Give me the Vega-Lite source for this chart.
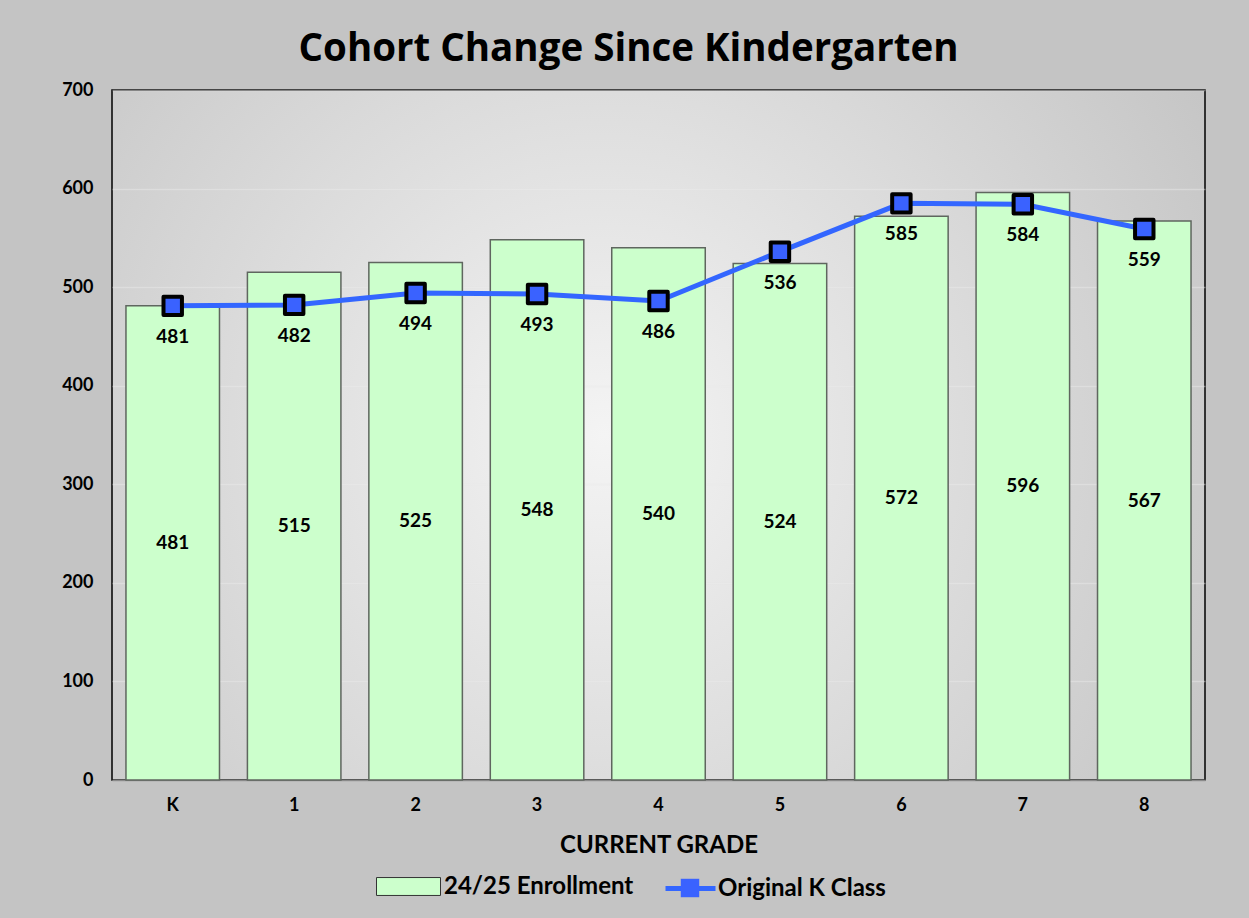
{
  "$schema": "https://vega.github.io/schema/vega-lite/v6.json",
  "width": 1093,
  "height": 690,
  "autosize": {"type": "none"},
  "padding": {"left": 112, "top": 90, "right": 44, "bottom": 138},
  "background": "#c4c4c4",
  "title": {
    "text": "Cohort Change Since Kindergarten",
    "font": "Open Sans",
    "fontWeight": "bold",
    "fontSize": 38.5,
    "color": "#000000",
    "anchor": "middle",
    "dx": -30,
    "offset": 12
  },
  "config": {
    "font": "Lato",
    "view": {
      "stroke": "#000000",
      "strokeWidth": 1.5,
      "fill": {
        "gradient": "radial",
        "x1": 0.45, "y1": 0.5, "r1": 0,
        "x2": 0.45, "y2": 0.5, "r2": 0.75,
        "stops": [
          {"offset": 0, "color": "#f4f4f4"},
          {"offset": 1, "color": "#bdbdbd"}
        ]
      }
    },
    "axis": {
      "labelFont": "Lato",
      "labelFontWeight": "bold",
      "labelFontSize": 18,
      "labelColor": "#000000",
      "titleFont": "Lato",
      "titleFontWeight": "bold",
      "titleColor": "#000000",
      "ticks": false,
      "tickSize": 0
    },
    "legend": {
      "labelFont": "Lato",
      "labelFontWeight": "bold",
      "labelFontSize": 24,
      "labelColor": "#000000",
      "labelLimit": 400,
      "padding": 0,
      "offset": 0
    }
  },
  "data": {
    "values": [
      {"grade": "K", "enroll": 481, "orig": 481},
      {"grade": "1", "enroll": 515, "orig": 482},
      {"grade": "2", "enroll": 525, "orig": 494},
      {"grade": "3", "enroll": 548, "orig": 493},
      {"grade": "4", "enroll": 540, "orig": 486},
      {"grade": "5", "enroll": 524, "orig": 536},
      {"grade": "6", "enroll": 572, "orig": 585},
      {"grade": "7", "enroll": 596, "orig": 584},
      {"grade": "8", "enroll": 567, "orig": 559}
    ]
  },
  "encoding": {
    "x": {
      "field": "grade",
      "type": "ordinal",
      "sort": null,
      "scale": {"paddingInner": 0.23, "paddingOuter": 0.115},
      "axis": {
        "title": "CURRENT GRADE",
        "titleFontSize": 24,
        "titlePadding": 19,
        "labelAngle": 0,
        "labelPadding": 16,
        "domain": true,
        "domainColor": "#8a8a8a",
        "domainWidth": 1.5,
        "grid": false
      }
    }
  },
  "layer": [
    {
      "layer": [
        {
          "mark": {"type": "bar", "stroke": "#5f665f", "strokeWidth": 1.5},
          "encoding": {
            "y": {
              "field": "enroll",
              "type": "quantitative",
              "scale": {"domain": [0, 700]},
              "axis": {
                "title": null,
                "values": [0, 100, 200, 300, 400, 500, 600, 700],
                "labelPadding": 19,
                "domain": false,
                "grid": true,
                "gridColor": "#ececec",
                "gridOpacity": 0.45,
                "gridWidth": 1.5
              }
            },
            "fill": {
              "datum": "24/25 Enrollment",
              "type": "nominal",
              "scale": {"range": ["#ccffcc"]},
              "legend": {
                "title": null,
                "orient": "none",
                "legendX": 264,
                "legendY": 764,
                "symbolType": "M-1,-0.28H1V0.28H-1Z",
                "symbolSize": 4096,
                "symbolStrokeColor": "#333333",
                "symbolStrokeWidth": 1,
                "symbolOpacity": 1,
                "labelOffset": 3
              }
            }
          }
        },
        {
          "mark": {"type": "line", "strokeWidth": 5, "strokeCap": "round"},
          "encoding": {
            "y": {"field": "orig", "type": "quantitative"},
            "stroke": {
              "datum": "Original K Class",
              "type": "nominal",
              "scale": {"range": ["#3366ff"]},
              "legend": {
                "title": null,
                "orient": "none",
                "legendX": 551,
                "legendY": 771,
                "symbolType": "stroke",
                "symbolSize": 2500,
                "symbolStrokeWidth": 5,
                "labelOffset": 0
              }
            }
          }
        },
        {
          "mark": {"type": "point", "filled": true, "fill": "#3a62ff", "stroke": "#000000", "strokeWidth": 4, "strokeJoin": "round", "size": 340, "opacity": 1},
          "encoding": {
            "y": {"field": "orig", "type": "quantitative"},
            "shape": {
              "datum": "marker",
              "type": "nominal",
              "scale": {"range": ["square"]},
              "legend": {
                "title": null,
                "orient": "none",
                "legendX": 566,
                "legendY": 786,
                "symbolSize": 340,
                "symbolFillColor": "#3a62ff",
                "symbolStrokeColor": "#000000",
                "symbolStrokeWidth": 4,
                "symbolOpacity": 1,
                "labelExpr": "''"
              }
            }
          }
        },
        {
          "mark": {"type": "text", "font": "Lato", "fontWeight": "bold", "fontSize": 19, "color": "#000000", "baseline": "middle", "dy": 31},
          "encoding": {
            "y": {"field": "orig", "type": "quantitative"},
            "text": {"field": "orig", "type": "quantitative"}
          }
        }
      ]
    },
    {
      "mark": {"type": "text", "font": "Lato", "fontWeight": "bold", "fontSize": 19, "color": "#000000", "baseline": "middle"},
      "encoding": {
        "y": {"field": "enroll", "type": "quantitative", "scale": {"domain": [0, 1400]}, "axis": null},
        "text": {"field": "enroll", "type": "quantitative"}
      }
    }
  ],
  "resolve": {"scale": {"y": "independent"}}
}
